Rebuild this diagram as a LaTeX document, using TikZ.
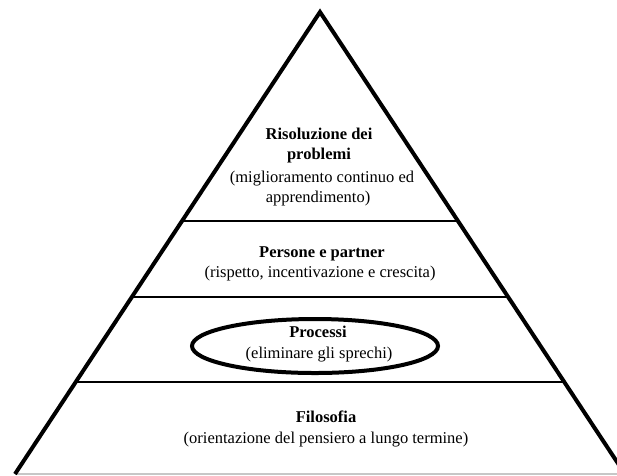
\documentclass[tikz,border=0pt]{standalone}
\usepackage{fontspec}
\setmainfont{Liberation Serif}
\usetikzlibrary{shapes.geometric}
\begin{document}
\begin{tikzpicture}[x=1pt,y=-1pt,
  side/.style={line width=4pt, line join=miter},
  divider/.style={line width=1.8pt},
  groundline/.style={draw=black!22, line width=1.2pt},
  txt/.style={anchor=base, inner sep=0pt, font=\fontsize{16.5}{20}\selectfont},
  ttl/.style={txt, font=\fontsize{16.5}{20}\selectfont\bfseries},
  focus/.style={draw, ellipse, line width=4pt, minimum width=246pt, minimum height=54pt, inner sep=0pt}]
\useasboundingbox (0,0) rectangle (617,475);
\clip (0,0) rectangle (617,475);

% pyramid outline
\coordinate (apex) at (320,12);
\coordinate (bl) at (15,474);
\coordinate (br) at (625,474);
\coordinate (gl) at (15,474);
\coordinate (gr) at (617,474);
\draw[groundline] (gl) -- (gr);
\draw[side] (bl) -- (apex) -- (br);

% tier dividers
\coordinate (al) at (182,221);
\coordinate (ar) at (458,221);
\coordinate (bl2) at (131.8,297);
\coordinate (br2) at (508.2,297);
\coordinate (cl) at (75.7,382);
\coordinate (cr) at (564.3,382);
\draw[divider] (al) -- (ar);
\draw[divider] (bl2) -- (br2);
\draw[divider] (cl) -- (cr);

% top tier
\node[ttl] (r1) at (319,139) {Risoluzione dei};
\node[ttl] (r2) at (319,159) {problemi};
\node[txt] (r3) at (322,182) {(miglioramento continuo ed};
\node[txt] (r4) at (318,202) {apprendimento)};

% second tier
\node[ttl] (p1) at (322,257) {Persone e partner};
\node[txt] (p2) at (320,277) {(rispetto, incentivazione e crescita)};

% third tier
\node[focus] (ring) at (315,346) {};
\node[ttl] (q1) at (318,337) {Processi};
\node[txt] (q2) at (319,358) {(eliminare gli sprechi)};

% base tier
\node[ttl] (f1) at (326,422) {Filosofia};
\node[txt] (f2) at (326,443) {(orientazione del pensiero a lungo termine)};
\end{tikzpicture}
\end{document}
